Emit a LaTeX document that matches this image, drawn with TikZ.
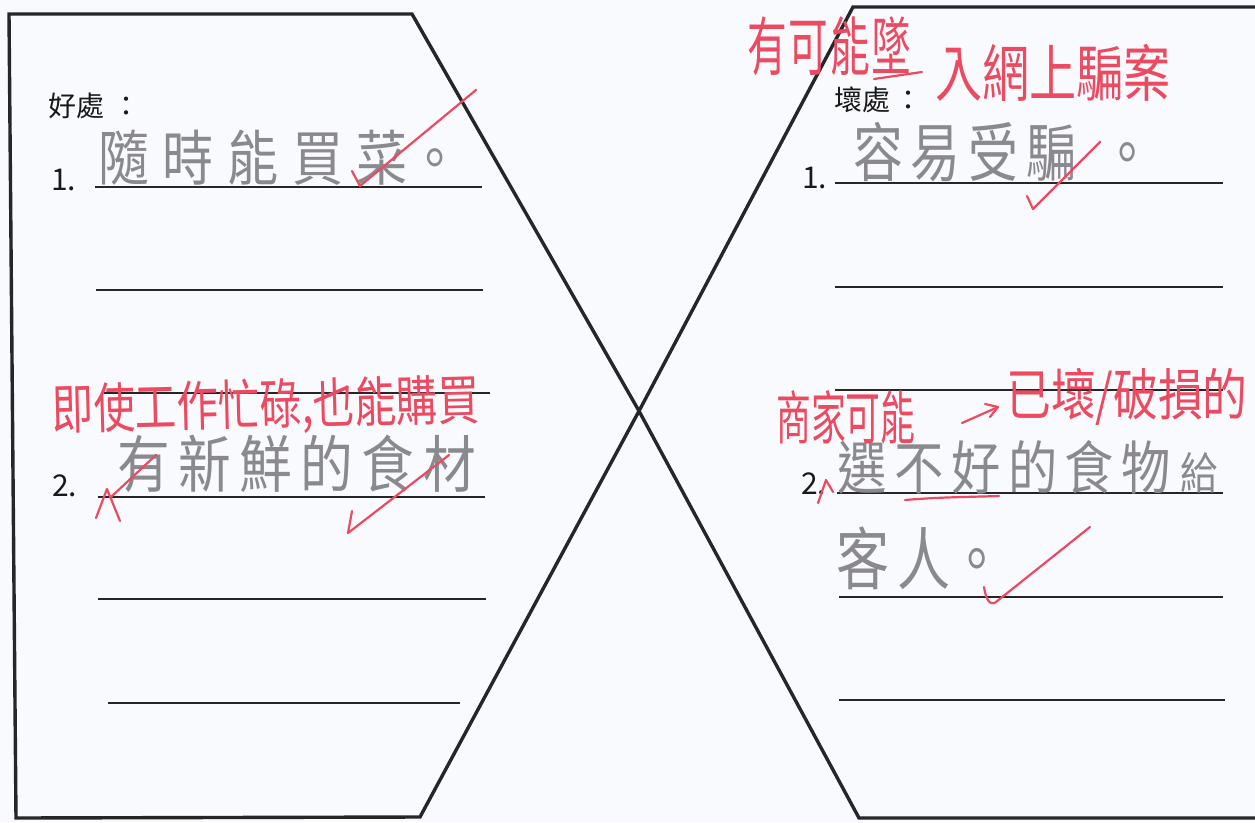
\documentclass[tikz,border=0pt]{standalone}
\usepackage{fontspec}
\setmainfont{Noto Sans CJK TC}
\definecolor{paper}{RGB}{249,250,253}
\definecolor{frame}{RGB}{38,38,40}
\definecolor{pencil}{RGB}{138,138,142}
\definecolor{redink}{RGB}{236,74,96}
\newcommand\cgap[1]{\hspace{#1pt}}
\newcommand\hw[3]{\scalebox{#2}[1]{\fontsize{#1pt}{#1pt}\selectfont #3}}
\begin{document}
\begin{tikzpicture}[x=1pt,y=-1pt,
  frameline/.style={draw=frame,line width=3.4pt,line join=miter},
  rule/.style={draw=black!85,line width=1.6pt},
  printed/.style={inner sep=0pt,anchor=west,text=black!90},
  pen/.style={inner sep=0pt,anchor=west,text=pencil},
  redtext/.style={inner sep=0pt,anchor=west,text=redink},
  redmark/.style={draw=redink,line width=2.2pt,line cap=round,line join=round}]
\useasboundingbox (0,0) rectangle (1255,822);
\clip (0,0) rectangle (1255,822);
\fill[paper] (0,0) rectangle (1255,822);

% frames
\coordinate (cross) at (639,411);
\draw[frameline] (9,14) -- (412,14) -- (cross) -- (420,817) -- (16,818) -- cycle;
\draw[frameline] (1270,7) -- (853,7) -- (cross) -- (859,818) -- (1270,818);

% writing lines, left
\draw[rule] (95,187) -- (482,187);
\draw[rule] (96,290) -- (483,290);
\draw[rule] (104,393) -- (490,393);
\draw[rule] (98,497) -- (485,497);
\draw[rule] (98,599) -- (486,599);
\draw[rule] (108,703) -- (460,703);
% writing lines, right
\draw[rule] (835,183) -- (1223,183);
\draw[rule] (835,287) -- (1223,287);
\draw[rule] (835,390) -- (1223,390);
\draw[rule] (837,493) -- (1223,493);
\draw[rule] (839,597) -- (1223,597);
\draw[rule] (839,700) -- (1225,700);

% printed labels
\node[printed,font=\fontsize{28pt}{28pt}\selectfont] (goodhead) at (48,106) {好處\cgap{8}：};
\node[printed,font=\fontsize{30pt}{30pt}\selectfont] (goodone) at (51,180) {1.};
\node[printed,font=\fontsize{30pt}{30pt}\selectfont] (goodtwo) at (52,486) {2.};
\node[printed,font=\fontsize{28pt}{28pt}\selectfont] (badhead) at (834,100) {壞處\cgap{4}：};
\node[printed,font=\fontsize{30pt}{30pt}\selectfont] (badone) at (802,178) {1.};
\node[printed,font=\fontsize{30pt}{30pt}\selectfont] (badtwo) at (801,484) {2.};

% pencil answers
\node[pen] (pen1) at (98,158) {\hw{60}{0.85}{隨\cgap{16}時\cgap{16}能\cgap{16}買\cgap{16}菜\cgap{2}。}};
\node[pen] (pen2) at (117,464) {\hw{62}{0.85}{有\cgap{10}新\cgap{10}鮮\cgap{10}的\cgap{10}食\cgap{10}材}};
\node[pen] (pen3) at (853,152) {\hw{64}{0.78}{容\cgap{10}易\cgap{10}受\cgap{10}騙\cgap{34}。}};
\node[pen] (pen4) at (837,467) {\hw{58}{0.85}{選\cgap{9}不\cgap{9}好\cgap{9}的\cgap{9}食\cgap{9}物\cgap{11}{\fontsize{44pt}{44pt}\selectfont 給}}};
\node[pen] (pen5) at (836,558) {\hw{68}{0.78}{客\cgap{11}人。}};

% red corrections
\node[redtext] (red1) at (747,46) {\hw{64}{0.62}{有\cgap{3}可\cgap{3}能\cgap{3}墜}};
\node[redtext] (red2) at (935,73) {\hw{62}{0.76}{入網上騙案}};
\node[redtext,rotate=1.4] (red3) at (52,412) {\hw{54}{0.77}{即使工作忙碌,也能購買}};
\node[redtext] (red4) at (776,417) {\hw{58}{0.6}{商家可能}};
\node[redtext] (red5) at (1006,397) {\hw{56}{0.8}{已壞/破損的}};

% red marks
\draw[redmark] (874,79) -- (922,72);
\draw[redmark] (352,171) -- (360,186) -- (476,90);
\draw[redmark] (1027,196) -- (1033,209) -- (1100,142);
\draw[redmark] (96,518) -- (107,489) -- (120,521);
\draw[redmark] (111,497) -- (156,455);
\draw[redmark] (352,511) -- (348,533) -- (449,455);
\draw[redmark] (818,503) -- (826,480) -- (833,492);
\draw[redmark] (905,500) .. controls (940,497) and (970,497) .. (999,496);
\draw[redmark] (984,587) .. controls (986,600) and (990,606) .. (996,602) -- (1090,527);
\draw[redmark] (962,423) -- (998,407);
\draw[redmark] (985,404) -- (998,407) -- (990,417);
\end{tikzpicture}
\end{document}
